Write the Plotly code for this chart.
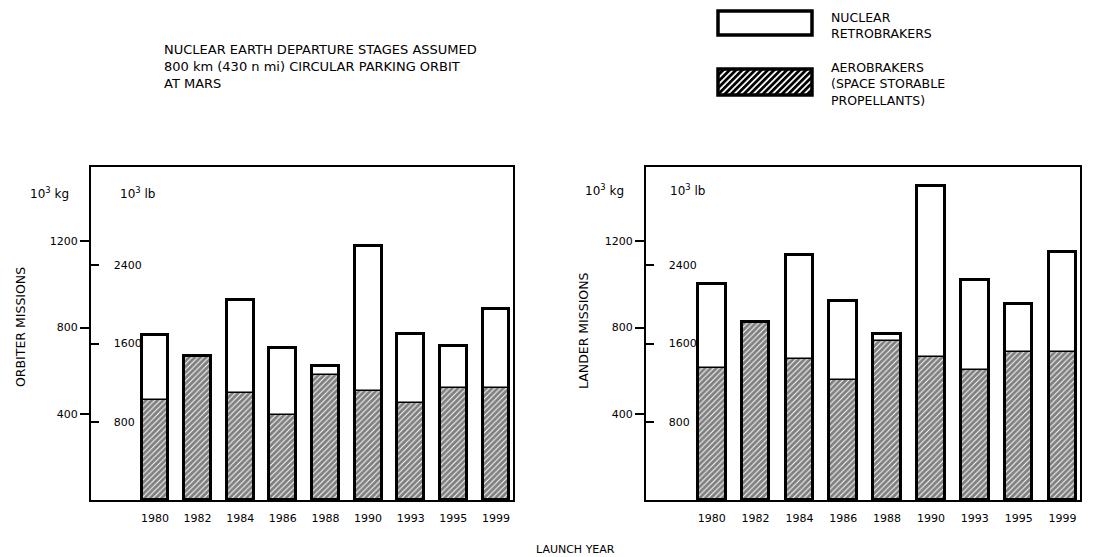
import plotly.graph_objects as go
import urllib.parse

# ---------------- data (10^3 kg) ----------------
years = ["1980", "1982", "1984", "1986", "1988", "1990", "1993", "1995", "1999"]

orbiter_nuclear = [764, 670, 930, 705, 620, 1178, 772, 713, 888]
orbiter_aero = [465, 670, 496, 395, 578, 504, 450, 519, 519]

lander_nuclear = [1000, 825, 1135, 925, 772, 1457, 1020, 910, 1152]
lander_aero = [612, 825, 654, 558, 736, 662, 605, 685, 685]

kg_ticks = [400, 800, 1200]
lb_ticks = [800, 1600, 2400]
LB_PER_KG = 2.20462
KG_MAX = 1545

W, H = 1098, 557
FONT = "DejaVu Sans"


def px(x):
    return x / W


def py(y):
    return 1 - y / H


fig = go.Figure()
xs = list(range(len(years)))
BW = 0.63
HATCH = dict(shape="/", fgcolor="black", bgcolor="white", size=4, solidity=0.75)


def add_panel(nuc, aero, xa, ya, ya_lb):
    common = dict(x=xs, xaxis=xa, width=BW, showlegend=False, hoverinfo="skip",
                  textposition="none", cliponaxis=False)
    fig.add_trace(go.Bar(y=nuc, yaxis=ya,
                         marker=dict(color="white", line=dict(color="black", width=3)), **common))
    fig.add_trace(go.Bar(y=aero, yaxis=ya,
                         marker=dict(color="white", pattern=HATCH,
                                     line=dict(color="black", width=1.5)), **common))
    fig.add_trace(go.Bar(y=nuc, yaxis=ya,
                         marker=dict(color="rgba(0,0,0,0)", line=dict(color="black", width=3)),
                         **common))
    # same totals expressed in 10^3 lb on the secondary (lb) scale, invisible
    fig.add_trace(go.Bar(y=[v * LB_PER_KG for v in nuc], yaxis=ya_lb,
                         marker=dict(color="rgba(0,0,0,0)", line=dict(width=0)), **common))


add_panel(orbiter_nuclear, orbiter_aero, "x", "y", "y3")
add_panel(lander_nuclear, lander_aero, "x2", "y2", "y4")

tickfont = dict(family=FONT, size=11, color="black")

xcommon = dict(range=[-1.5, 8.4], tickvals=xs, ticktext=years, showline=True, mirror=True,
               linewidth=2, linecolor="black", ticks="outside", ticklen=7,
               tickcolor="rgba(0,0,0,0)", showgrid=False, zeroline=False, tickfont=tickfont)
ykg = dict(range=[0, KG_MAX], tickvals=kg_ticks, ticks="outside", ticklen=9, tickwidth=1.5,
           tickcolor="black", showline=True, mirror=True, linewidth=2, linecolor="black",
           showgrid=False, zeroline=False, tickfont=tickfont)
ylb = dict(range=[0, KG_MAX * LB_PER_KG], tickvals=lb_ticks, ticks="inside", ticklen=8,
           tickwidth=1.5, tickcolor="black", ticklabelposition="inside", side="left",
           ticklabelstandoff=14,
           showline=False, showgrid=False, zeroline=False, tickfont=tickfont)

ydom = [py(500), py(167)]
fig.update_layout(
    width=W, height=H, margin=dict(l=0, r=0, t=0, b=0),
    paper_bgcolor="white", plot_bgcolor="white", barmode="overlay", bargap=0,
    showlegend=False,
    xaxis=dict(domain=[px(91), px(513)], anchor="y", **xcommon),
    yaxis=dict(domain=ydom, anchor="x", **ykg),
    yaxis3=dict(overlaying="y", anchor="x", **ylb),
    xaxis2=dict(domain=[px(646), px(1080)], anchor="y2", **xcommon),
    yaxis2=dict(domain=ydom, anchor="x2", **ykg),
    yaxis4=dict(overlaying="y2", anchor="x2", **ylb),
)

title_font = dict(family=FONT, size=13, color="black")
big = dict(family=FONT, size=12.5, color="black")
mid = dict(family=FONT, size=12, color="black")
small = dict(family=FONT, size=11, color="black")
anns = [
    dict(x=px(162), y=py(40), xanchor="left", yanchor="top", align="left", font=title_font,
         text="NUCLEAR EARTH DEPARTURE STAGES ASSUMED<br>800 km (430 n mi) CIRCULAR PARKING ORBIT<br>AT MARS"),
    dict(x=px(829), y=py(8), xanchor="left", yanchor="top", align="left", font=big,
         text="NUCLEAR<br>RETROBRAKERS"),
    dict(x=px(829), y=py(58), xanchor="left", yanchor="top", align="left", font=big,
         text="AEROBRAKERS<br>(SPACE STORABLE<br>PROPELLANTS)"),
    dict(x=px(49), y=py(193), text="10<sup>3</sup> kg", font=mid),
    dict(x=px(137), y=py(193), text="10<sup>3</sup> lb", font=mid),
    dict(x=px(604), y=py(190), text="10<sup>3</sup> kg", font=mid),
    dict(x=px(687), y=py(190), text="10<sup>3</sup> lb", font=mid),
    dict(x=px(20), y=py(327), text="ORBITER MISSIONS", textangle=-90, font=big),
    dict(x=px(583), y=py(331), text="LANDER MISSIONS", textangle=-90, font=big),
    dict(x=px(575), y=py(549), text="LAUNCH YEAR", font=small),
]
for a in anns:
    a.setdefault("xanchor", "center")
    a.setdefault("yanchor", "middle")
    fig.add_annotation(xref="paper", yref="paper", showarrow=False, **a)

# legend swatches
fig.add_shape(type="rect", xref="paper", yref="paper", x0=px(718), x1=px(812),
              y0=py(35), y1=py(11), line=dict(color="black", width=3.5), fillcolor="white")

hatch_svg = (
    "<svg xmlns='http://www.w3.org/2000/svg' width='96' height='28'>"
    "<defs><pattern id='p' width='4.5' height='4.5' patternUnits='userSpaceOnUse' "
    "patternTransform='rotate(45)'><rect width='2.8' height='4.5' fill='black'/></pattern></defs>"
    "<rect x='0' y='0' width='96' height='28' fill='white'/>"
    "<rect x='0' y='0' width='96' height='28' fill='url(#p)'/>"
    "</svg>"
)
fig.add_layout_image(dict(source="data:image/svg+xml;charset=utf-8," + urllib.parse.quote(hatch_svg),
                          xref="paper", yref="paper", x=px(717), y=py(68), sizex=px(96), sizey=28 / H,
                          xanchor="left", yanchor="top", sizing="stretch", layer="above"))
fig.add_shape(type="rect", xref="paper", yref="paper", x0=px(718), x1=px(812),
              y0=py(95), y1=py(69), line=dict(color="black", width=3.5), fillcolor="rgba(0,0,0,0)")

fig.write_html("out.html")
